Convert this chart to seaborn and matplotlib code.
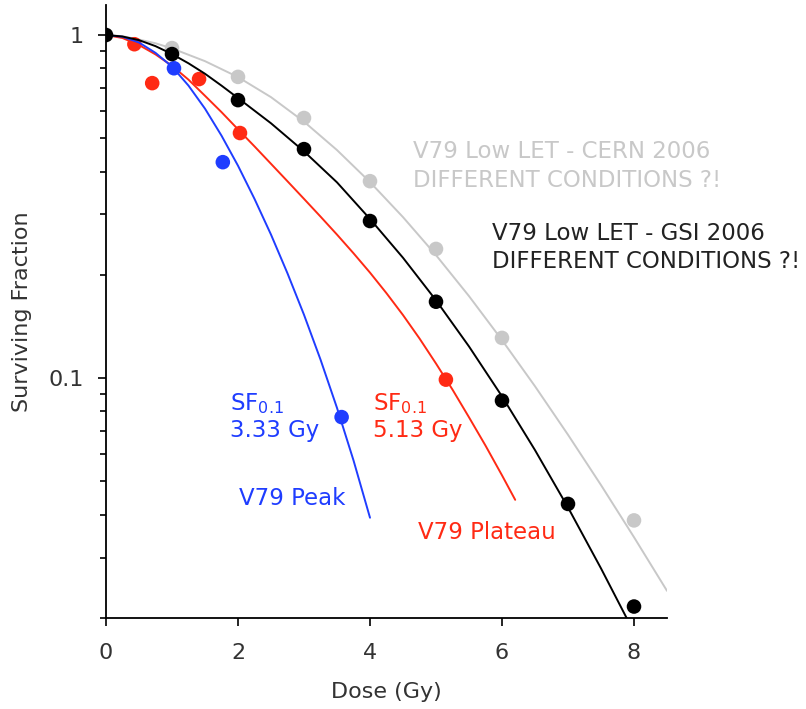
import matplotlib
matplotlib.use("Agg")
import matplotlib.pyplot as plt
import matplotlib.ticker as mticker
import seaborn as sns

sns.set_theme(style="ticks")
plt.rcParams['font.family'] = ['DejaVu Sans']

# ---- measured data points ----
cern_dose = [1, 2, 3, 4, 5, 6, 8]
cern_sf = [0.916, 0.755, 0.573, 0.375, 0.238, 0.131, 0.0385]

gsi_dose = [0, 1, 2, 3, 4, 5, 6, 7, 8]
gsi_sf = [1.0, 0.88, 0.646, 0.465, 0.287, 0.167, 0.086, 0.043, 0.0216]

plateau_dose = [0.43, 0.70, 1.41, 2.03, 5.15]
plateau_sf = [0.94, 0.724, 0.744, 0.518, 0.099]

peak_dose = [1.03, 1.77, 3.57]
peak_sf = [0.80, 0.426, 0.077]

# ---- fitted curves ----
cern_fit_dose = [0, 0.25, 0.5, 0.75, 1, 1.5, 2, 2.5, 3, 3.5, 4, 4.5, 5, 5.5,
                 6, 6.5, 7, 7.5, 8, 8.5]
cern_fit_sf = [1.0, 0.992, 0.970, 0.946, 0.914, 0.839, 0.754, 0.659, 0.559,
               0.462, 0.3727, 0.2946, 0.2283, 0.1734, 0.1291, 0.0947, 0.0684,
               0.0488, 0.0344, 0.024]

gsi_fit_dose = [0, 0.25, 0.5, 0.75, 1, 1.25, 1.5, 1.75, 2, 2.5, 3, 3.5, 4,
                4.5, 5, 5.5, 6, 6.5, 7, 7.5, 7.9]
gsi_fit_sf = [1.0, 0.99, 0.966, 0.928, 0.88, 0.827, 0.771, 0.712, 0.655,
              0.553, 0.458, 0.372, 0.291, 0.2243, 0.1686, 0.1237, 0.0885,
              0.0617, 0.042, 0.0279, 0.0198]

plateau_fit_dose = [0, 0.25, 0.5, 0.75, 1, 1.25, 1.5, 1.75, 2, 2.25, 2.5,
                    2.75, 3, 3.25, 3.5, 3.75, 4, 4.25, 4.5, 4.75, 5, 5.25,
                    5.5, 5.75, 6, 6.2]
plateau_fit_sf = [1.0, 0.98, 0.935, 0.878, 0.813, 0.741, 0.665, 0.596, 0.531,
                  0.4736, 0.4213, 0.3747, 0.333, 0.2957, 0.262, 0.2312, 0.203,
                  0.1768, 0.1527, 0.1305, 0.1103, 0.0926, 0.0769, 0.0636,
                  0.0521, 0.0442]

peak_fit_dose = [0, 0.25, 0.5, 0.75, 1, 1.25, 1.5, 1.75, 2, 2.25, 2.5, 2.75,
                 3, 3.25, 3.5, 3.75, 4]
peak_fit_sf = [1.0, 0.988, 0.951, 0.887, 0.809, 0.712, 0.610, 0.509, 0.416,
               0.333, 0.262, 0.202, 0.153, 0.1133, 0.0819, 0.0576, 0.0392]

# ---- annotation texts ----
label_cern = ["V79 Low LET - CERN 2006", "DIFFERENT CONDITIONS ?!"]
label_gsi = ["V79 Low LET - GSI 2006", "DIFFERENT CONDITIONS ?!"]
label_sf = "SF$_\\mathregular{0.1}$"
label_peak = ["3.33 Gy", "V79 Peak"]
label_plat = ["5.13 Gy", "V79 Plateau"]

# ---- colours ----
c_cern = "#c8c8c8"
c_gsi = "#000000"
c_plat = "#ff2a14"
c_peak = "#1f3dff"
txt = "#333333"

W, H = 806, 709
fig = plt.figure(figsize=(W / 100, H / 100), dpi=100)
ax = fig.add_axes([106 / W, (H - 618) / H, 561 / W, 613 / H])


def draw(fd, fs, pdose, psf, color, zl, zp):
    sns.lineplot(x=fd, y=fs, ax=ax, color=color, linewidth=1.4, zorder=zl,
                 sort=False, estimator=None)
    sns.scatterplot(x=pdose, y=psf, ax=ax, color=color, s=110,
                    edgecolor="none", linewidth=0, zorder=zp)


draw(cern_fit_dose, cern_fit_sf, cern_dose, cern_sf, c_cern, 1, 2)
draw(plateau_fit_dose, plateau_fit_sf, plateau_dose, plateau_sf, c_plat, 3, 4)
draw(peak_fit_dose, peak_fit_sf, peak_dose, peak_sf, c_peak, 5, 6)
draw(gsi_fit_dose, gsi_fit_sf, gsi_dose, gsi_sf, c_gsi, 7, 8)

ax.set_yscale("log")
ax.set_xlim(0, 8.5)
ax.set_ylim(0.02, 1.223)

ax.set_xticks([0, 2, 4, 6, 8])
ax.set_xticklabels(["0", "2", "4", "6", "8"])
ax.yaxis.set_major_locator(mticker.FixedLocator([0.1, 1]))
ax.yaxis.set_major_formatter(mticker.FixedFormatter(["0.1", "1"]))
ax.yaxis.set_minor_locator(mticker.FixedLocator(
    [0.02, 0.03, 0.04, 0.05, 0.06, 0.07, 0.08, 0.09,
     0.2, 0.3, 0.4, 0.5, 0.6, 0.7, 0.8, 0.9]))
ax.yaxis.set_minor_formatter(mticker.NullFormatter())

for s in ["top", "right"]:
    ax.spines[s].set_visible(False)
for s in ["left", "bottom"]:
    ax.spines[s].set_color("black")
    ax.spines[s].set_linewidth(1.3)
    ax.spines[s].set_zorder(0)

ax.tick_params(axis="both", which="major", direction="out", length=6,
               width=1.2, colors="black", labelcolor=txt, labelsize=16)
ax.tick_params(axis="x", which="major", pad=12)
ax.tick_params(axis="y", which="major", pad=10)
ax.tick_params(axis="y", which="minor", direction="out", length=4, width=1.2,
               colors="black")

ax.set_xlabel("Dose (Gy)", fontsize=16, color=txt, labelpad=14)
ax.set_ylabel("Surviving Fraction", fontsize=16, color=txt, labelpad=12)

fs_ann = 16.5
# CERN label
ax.text(4.652, 0.4379, label_cern[0], color=c_cern, fontsize=fs_ann,
        ha="left", va="baseline")
ax.text(4.652, 0.3604, label_cern[1], color=c_cern, fontsize=fs_ann,
        ha="left", va="baseline")
# GSI label
ax.text(5.848, 0.2525, label_gsi[0], color="#222222", fontsize=fs_ann,
        ha="left", va="baseline")
ax.text(5.848, 0.2092, label_gsi[1], color="#222222", fontsize=fs_ann,
        ha="left", va="baseline")
# Peak labels
ax.text(1.879, 0.0807, label_sf, color=c_peak, fontsize=fs_ann,
        ha="left", va="baseline")
ax.text(1.879, 0.0673, label_peak[0], color=c_peak, fontsize=fs_ann,
        ha="left", va="baseline")
ax.text(2.02, 0.0426, label_peak[1], color=c_peak, fontsize=fs_ann,
        ha="left", va="baseline")
# Plateau labels
ax.text(4.045, 0.0807, label_sf, color=c_plat, fontsize=fs_ann,
        ha="left", va="baseline")
ax.text(4.045, 0.0673, label_plat[0], color=c_plat, fontsize=fs_ann,
        ha="left", va="baseline")
ax.text(4.727, 0.0339, label_plat[1], color=c_plat, fontsize=fs_ann,
        ha="left", va="baseline")

fig.savefig("out.png", dpi=100)
